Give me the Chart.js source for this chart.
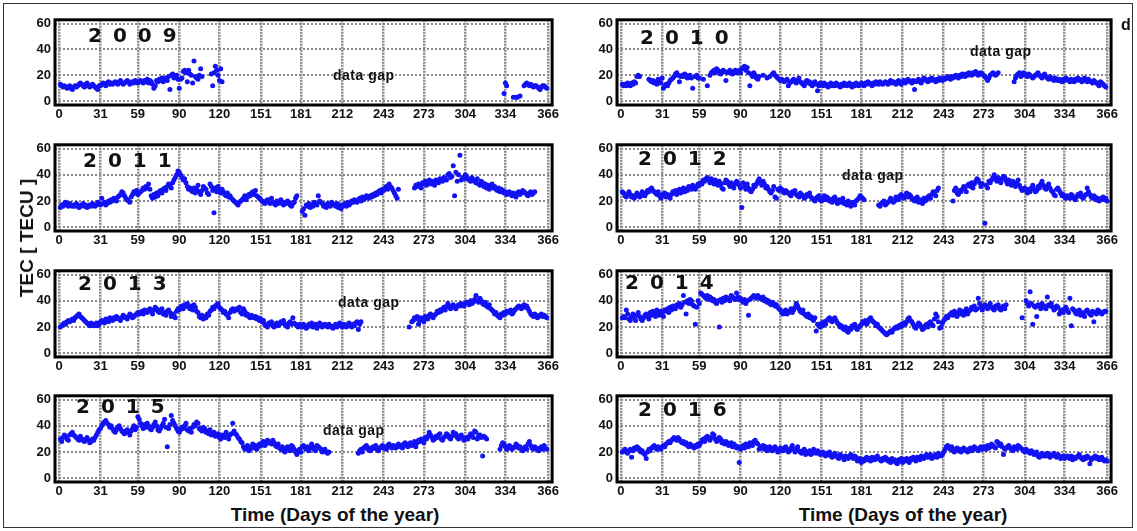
<!DOCTYPE html>
<html>
<head>
<meta charset="utf-8">
<script src="https://cdn.jsdelivr.net/npm/chart.js@4.4.1/dist/chart.umd.min.js"></script>
<style>
  body { margin: 0; background: #fff; width: 1137px; height: 531px; position: relative; overflow: hidden; font-family: "Liberation Sans", Arial, sans-serif; }
  #frame { position: absolute; left: 3px; top: 3px; width: 1128px; height: 523px; border: 1.5px solid #333; }
  canvas { position: absolute; }
  .lbl { position: absolute; white-space: nowrap; color: #111; font-weight: bold; }
  .year { font-family: "DejaVu Sans", sans-serif; font-size: 20px; letter-spacing: 2px; line-height: 20px; }
  .gap { font-size: 14px; line-height: 14px; letter-spacing: 0.5px; }
  .axis { font-size: 19px; line-height: 20px; }
</style>
</head>
<body>
<div id="frame"></div>

<script>
// tick labels
const dayTicks = [0, 31, 59, 90, 120, 151, 181, 212, 243, 273, 304, 334, 366];
const tecTicks = [0, 20, 40, 60];
const years = ['2009', '2010', '2011', '2012', '2013', '2014', '2015', '2016'];

// TEC values, as [first day, daily values...] runs
const tec2009 = [
  [1, [13,12,11,12,11,10,11,12,10,9,11,12,11,12,13,14,13,12,11,13,14,12,11,12,13,12,11,10,9,12,
       12,13,14,13,12,14,15,13,14,13,14,15,14,13,15,16,14,13,14,15,16,15,13,14,15,14,16,15,14,15,
       16,15,14,16,15,17,14,16,15,13,10,12,16,15,17,16,18,15,17,18,16,19,9,20,21,18,19,20,17,10,
       17,18,23,24,22,15,24,21,20,14,31,19,18,17,20,25,19]],
  [114, [21,12,22,27,24,20,16,25,15]],
  [333, [6,14,12,null,null,null,null,3,null,3,3,null,4,null,null,12,13,14,13,12,13,12,11,12,12,11,10,9,11,12,12,11,10]]
];
const tec2010 = [
  [1, [13,12,13,12,14,13,12,14,13,15,14,19,20,19]],
  [21, [17,16,15,16,14,15,13,17,15,14,
        18,10,12,13,12,14,16,17,18,19,21,22,20,15,19,20,19,21,20,18,
        19,20,18,10,null,19,20,18,18,null,null,17,null,null,12,null,20,22,
        23,24,22,25,24,23,21,22,24,23,16,22,23,24,22,21,23,24,22,23,24,22,
        25,26,27,24,26,22,12,21,19,22,20,18,17,19,null,null,20,null,null,18,
        null,19,null,21,22,20,19,18,17,16,
        17,16,15,16,17,12,14,15,16,17,15,14,16,18,15,14,13,12,15,16,14,15,13,12,14,15,13,8,12,14,
        13,12,14,13,12,11,13,14,12,13,12,14,13,12,11,13,12,14,13,12,13,14,12,11,13,12,14,13,12,13,14,
        13,12,14,13,15,14,13,12,14,13,15,14,13,15,14,13,14,15,14,13,15,16,14,15,14,13,15,16,14,13,15,
        16,14,15,17,16,15,14,16,9,15,16,17,15,14,16,18,17,16,15,17,16,18,17,16,15,17,16,18,17,16,18,
        17,18,19,18,17,19,18,19,20,19,18,20,19,21,20,19,21,20,22,21,20,22,21,23,22,20,21,22,21,20,
        19,18,16,18,20,21,22,21,20,21,22]],
  [296, [15,18,20,21,22,19,20,22,21,20,19,21,20,19,18,
         19,20,21,22,20,19,18,20,21,19,18,17,19,18,17,16,18,17,16,17,16,15,17,16,18,17,16,15,17,16,
         15,17,16,18,17,16,15,17,18,16,15,17,null,15,14,16,15,14,13,12,15,14,13,12,11]]
];
const tec2011 = [
  [1, [15,17,16,18,19,17,16,18,17,16,17,16,18,17,15,16,17,18,16,17,15,16,17,16,18,17,16,17,19,18,17,
       22,18,19,17,18,20,19,21,20,22,21,20,23,24,25,27,26,24,22,21,20,19,23,25,27,26,28,25,
       26,27,28,30,29,31,30,33,29,24,22,25,23,26,24,27,28,26,29,30,28,31,33,32,30,34,36,38,40,43,42,
       40,38,36,37,34,31,29,30,28,27,30,26,29,32,27,25,28,31,30,29,26,25,33,31,28,11,30,27,31,28,
       26,29,27,25,24,26,23,24,22,21,20,19,18,17,19,20,21,22,24,21,23,25,24,26,27,25,28,24,23,22,21,
       20,19,18,20,21,19,18,22,19,18,17,20,18,19,21,18,17,19,18,20,19,17,16,18,19,22,24]],
  [182, [12,14,9,17,16,18,15,17,16,19,18,17,24,20,19,18,16,17,15,18,17,16,19,18,17,16,18,15,17,14,16,
         17,18,16,19,17,18,20,19,21,20,19,21,22,20,23,21,22,24,23,22,24,23,25,24,26,25,27,28,26,29,
         28,30,31,29,33,31,30,28,26,24,22,29]],
  [266, [30,32,31,33,32,30,34,33,35,32,34,36,33,35,34,32,36,35,34,37,36,35,38,37,36,40,41,38,39,47,24,42,35,40,55,36,38,37,40,
         39,37,36,35,38,36,35,34,37,33,32,35,34,31,33,30,32,29,31,33,30,31,29,28,30,27,29,28,26,27,25,
         26,27,25,24,26,25,23,26,27,25,26,28,27,26,25,24,26,27,25,26,27]]
];
const tec2012 = [
  [1, [27,26,24,23,25,27,25,23,24,22,24,26,25,23,24,27,25,24,26,28,27,29,30,28,27,26,25,27,24,22,25,
       24,26,23,25,24,22,25,27,26,28,25,27,29,26,28,30,27,29,28,31,30,29,32,30,29,31,33,32,
       34,33,36,35,37,38,36,34,37,35,33,36,34,32,35,33,30,29,34,36,35,33,31,34,32,30,33,35,34,32,30,
       15,34,31,29,33,30,28,27,29,32,31,33,35,37,34,32,35,33,30,31,29,27,26,28,31,23,22,29,28,30,
       29,27,26,28,27,26,25,24,27,26,28,25,24,23,26,25,24,22,23,25,24,26,23,22,21,20,22,23,24,21,20,
       22,24,21,23,22,20,21,19,22,23,20,18,21,19,20,22,18,19,17,20,18,16,19,18,17,20,21,22,24,23,22,21]],
  [194, [17,16,18,19,20,17,18,19,20,22,21,19,20,23,22,21,24,25,23,22,24,26,23,25,24,22,21,20,22,23,
         19,21,20,18,22,20,21,23,24,22,25,27,26,24,28,30]],
  [250, [20,28,30,26,25,28,27,29,31,30,27,32,33,31,34,30,33,35,37,36,34,31,33,null,
         3,32,30,35,34,36,38,40,37,35,38,36,34,37,39,38,35,33,36,34,32,35,33,31,34,36,32,30,28,29,30,
         28,26,29,27,30,32,29,27,28,31,30,33,35,32,30,29,31,33,30,28,27,25,24,29,30,28,26,24,25,23,22,
         24,23,22,25,24,22,21,23,25,24,26,23,22,24,25,30,27,25,23,22,24,23,21,22,20,21,22,23,21,22,20]]
];
const tec2013 = [
  [1, [20,21,22,23,22,24,25,24,25,26,25,27,28,29,30,28,27,26,25,24,23,22,21,23,22,21,22,23,21,22,24,
       25,24,23,26,25,24,27,26,25,27,26,28,27,26,25,27,29,28,27,26,28,30,29,27,28,29,30,31,30,
       31,32,30,33,32,31,33,34,32,30,33,35,34,32,31,33,34,30,31,29,32,33,31,28,30,29,27,32,34,33,
       35,36,34,37,36,38,35,34,36,33,37,35,32,31,28,27,29,26,28,27,30,29,32,33,35,34,36,37,38,35,
       34,33,31,32,30,29,27,31,33,34,32,33,34,33,35,31,30,34,32,29,30,28,27,29,28,27,28,26,27,25,26,
       24,25,22,21,20,23,22,24,21,20,22,23,21,22,24,23,25,22,21,20,23,24,22,27,23,22,21,20,22,21,
       20,22,21,19,20,22,21,23,20,21,22,19,21,23,22,20,21,22,21,20,22,21,20,19,21,22,20,21,23,21,
       20,22,21,20,22,23,21,20,22,21,23,24,18,22,24]],
  [262, [20,null,24,25,27,26,28,22,25,27,26,24,28,27,26,29,30,28,27,29,30,32,31,33,32,34,35,33,36,38,
         35,34,36,37,35,34,36,37,36,38,37,36,38,
         39,38,37,40,38,39,41,44,40,39,42,40,38,37,39,36,35,37,34,33,32,30,31,29,28,27,30,29,31,30,32,
         31,32,33,30,31,33,34,35,36,35,34,36,37,35,36,34,32,30,29,28,30,29,27,28,29,30,28,29,28,27]]
];
const tec2014 = [
  [1, [27,28,27,33,30,26,25,28,30,27,25,29,31,28,26,25,27,29,30,28,26,31,29,32,30,28,33,31,29,32,30,
       28,33,32,34,31,35,33,36,35,34,37,36,38,35,37,44,39,30,40,38,41,40,37,36,22,35,40,38,
       46,45,44,43,42,44,41,43,42,40,41,39,38,40,20,41,39,42,40,43,41,42,40,44,43,42,41,46,43,41,42,
       40,39,41,38,40,29,41,42,43,44,43,42,44,43,42,41,43,40,41,39,40,38,37,39,38,36,37,35,34,33,
       31,30,32,33,30,31,32,34,31,33,35,38,36,34,32,31,33,30,29,28,30,27,28,26,25,27,17,22,21,20,23,
       21,24,22,25,26,27,25,24,26,27,25,23,22,20,21,19,18,20,17,16,19,18,21,20,22,19,18,20,21,22,
       24,23,25,22,24,26,27,25,24,23,21,22,20,19,18,17,16,15,14,15,16,17,16,18,19,20,19,21,20,22,21,
       23,22,24,26,27,25,24,22,20,19,21,23,22,20,18,19,21,22,20,23,24,22,21,26,30,28,24,19,20,23,25,
       26,28,27,29,30,31,29,32,30,28,31,33,30,32,29,31,34,30,32,33,35,34,36,33,34,42,38,35,33,36,
       37,35,34,36,38,35,34,33,36,35,37,34,33,35,36,34,37]],
  [302, [27,null,null,40,38,36,47,38,22,36,35,28,37,36,34,38,35,36,34,43,37,36,38,35,33,34,36,35,30,32,33,31,34,
         35,33,31,42,21,34,33,31,30,32,33,29,31,30,28,32,33,31,30,29,32,24,31,30,33,32,31,30,31,32,32]]
];
const tec2015 = [
  [1, [30,28,31,33,32,30,29,33,34,35,33,32,31,30,29,32,30,29,28,30,31,29,27,28,30,29,31,33,35,37,38,
       40,42,43,44,42,41,39,40,38,36,35,37,39,40,38,36,35,34,36,37,35,33,36,38,40,37,39,47,
       45,42,40,38,41,39,42,40,38,37,39,41,43,40,37,36,38,40,42,45,39,24,38,41,48,44,42,40,38,36,35,
       37,39,38,40,42,37,36,38,35,39,41,40,43,42,38,37,36,39,38,35,36,34,37,33,34,35,32,33,34,31,
       30,33,32,31,35,32,30,33,34,42,36,34,33,31,30,28,27,24,22,23,25,21,22,24,26,23,25,22,24,26,25,
       27,28,25,26,29,28,27,26,29,27,25,24,26,23,22,24,21,20,23,24,22,21,25,24,22,20,18,21,22,20,
       24,25,23,22,24,21,23,26,24,22,21,25,24,23,22,20,21,22,20,19,20]],
  [224, [19,21,22,20,23,24,25,22,23,21,22,24,23,25,22,21,23,24,25,23,24,22,25,26,24,23,25,24,23,25,
         26,24,25,23,26,27,25,24,26,27,25,26,28,24,27,29,28,30,29,27,31,30,32,35,33,31,29,30,32,31,
         33,34,30,29,31,32,34,33,31,30,32,35,33,34,31,30,32,33,31,29,30,
         31,30,32,34,33,31,36,35,30,32,33,31,17,32,31,30]],
  [330, [22,25,27,26,24,22,23,25,24,22,23,24,26,25,23,24,22,21,23,24,22,26,28,25,23,22,24,23,22,21,23,24,22,25,23,22]]
];
const tec2016 = [
  [1, [20,21,22,20,19,21,22,16,21,23,22,24,23,22,20,21,19,18,15,20,22,21,23,24,25,23,22,24,23,22,24,
       25,24,26,27,28,27,29,30,31,30,29,31,30,28,27,28,26,27,25,24,26,25,24,23,25,24,26,25,
       27,29,30,28,31,32,30,29,31,34,33,30,28,29,31,30,27,28,26,28,27,25,26,27,24,26,25,23,24,12,22,
       24,25,23,26,25,24,27,26,25,28,29,27,26,22,24,23,25,22,24,21,23,24,22,21,23,24,22,20,21,23,
       22,21,23,24,22,20,21,23,25,22,20,22,24,21,20,19,21,22,18,20,19,21,18,19,22,20,19,21,20,18,19,
       20,18,17,19,18,20,17,16,18,19,17,16,15,18,17,16,14,17,16,15,17,18,16,15,17,16,13,14,15,12,
       14,13,15,16,14,15,13,16,15,14,16,17,15,14,13,15,14,16,15,13,14,12,15,13,14,12,11,14,13,15,12,
       14,13,15,14,12,15,14,16,15,13,16,15,14,17,16,15,17,18,16,17,18,15,16,17,18,16,19,null,17,18,20,
       22,24,25,23,22,24,21,20,22,23,21,22,20,21,23,22,21,20,22,23,21,22,24,23,22,21,23,24,22,23,
       24,22,25,23,24,26,25,24,23,28,27,25,26,24,18,22,23,24,25,23,22,21,24,23,22,25,24,23,22,21,20,
       22,21,20,19,21,20,18,19,20,17,16,18,19,17,18,17,19,18,16,17,18,19,17,16,18,17,15,16,17,15,16,
       17,16,15,17,14,16,15,16,17,18,16,15,14,16,15,17,16,11,14,15,16,17,15,16,14,15,16,14,13,14,13]]
];

const allTec = [tec2009, tec2010, tec2011, tec2012, tec2013, tec2014, tec2015, tec2016];

function toPoints(runs) {
  const pts = [];
  runs.forEach(([start, vals]) => {
    vals.forEach((v, i) => { if (v !== null) pts.push({ x: start + i, y: v }); });
  });
  return pts;
}

// plot areas (left, top, right, bottom)
const cols = [[55, 555], [617, 1114]];
const rows = [[14, 105], [139, 231], [265, 357], [390, 482]];
const yAxisW = 36, xAxisH = 22, padT = 6, padR = 6;

const tickFont = { family: '"Liberation Sans", Arial, sans-serif', size: 13, weight: 'bold' };

const framePlugin = {
  id: 'frame',
  afterDraw(chart) {
    const a = chart.chartArea, ctx = chart.ctx;
    ctx.save();
    ctx.strokeStyle = '#000';
    ctx.lineWidth = 3;
    ctx.strokeRect(a.left, a.top, a.right - a.left, a.bottom - a.top);
    ctx.restore();
  }
};

function addLabel(text, cls, left, top, extra) {
  const d = document.createElement('div');
  d.className = 'lbl ' + cls;
  d.textContent = text;
  d.style.left = left + 'px';
  d.style.top = top + 'px';
  if (extra) Object.assign(d.style, extra);
  document.body.appendChild(d);
  return d;
}

allTec.forEach((runs, k) => {
  const [L, R] = cols[k % 2];
  const [T, B] = rows[Math.floor(k / 2)];
  const cv = document.createElement('canvas');
  cv.width = (R - L) + yAxisW + padR;
  cv.height = (B - T) + padT + xAxisH;
  cv.style.left = (L - yAxisW) + 'px';
  cv.style.top = (T - padT) + 'px';
  document.body.appendChild(cv);

  new Chart(cv.getContext('2d'), {
    type: 'scatter',
    data: {
      datasets: [{
        data: toPoints(runs),
        backgroundColor: '#1212f2',
        pointRadius: 2.5,
        pointBorderWidth: 0
      }]
    },
    options: {
      responsive: false,
      animation: false,
      devicePixelRatio: 1,
      layout: { padding: { left: 0, top: padT, right: padR, bottom: 0 } },
      plugins: { legend: { display: false }, tooltip: { enabled: false } },
      scales: {
        x: {
          type: 'linear', min: -3, max: 369,
          afterBuildTicks: s => { s.ticks = dayTicks.map(v => ({ value: v })); },
          afterFit: s => { s.height = xAxisH; },
          ticks: { autoSkip: false, maxRotation: 0, padding: 2, font: tickFont, color: '#111' },
          grid: { color: '#8a8a8a', lineWidth: 2.5, drawTicks: false },
          border: { display: false, dash: [2, 1] }
        },
        y: {
          min: -3, max: 63,
          afterBuildTicks: s => { s.ticks = tecTicks.map(v => ({ value: v })); },
          afterFit: s => { s.width = yAxisW; },
          ticks: { padding: 4, font: tickFont, color: '#111' },
          grid: { color: '#8a8a8a', lineWidth: 2, drawTicks: false },
          border: { display: false, dash: [2, 2] }
        }
      }
    },
    plugins: [framePlugin]
  });
});

// year labels
const yearPos = [[88, 25], [640, 27], [83, 150], [638, 148], [78, 273], [625, 272], [76, 396], [638, 399]];
years.forEach((y, k) => addLabel(y.split('').join(' '), 'year', yearPos[k][0], yearPos[k][1]));

// data gap notes
[[333, 68], [970, 44], [842, 168], [338, 295], [323, 423]].forEach(p => addLabel('data gap', 'gap', p[0], p[1]));

addLabel('d', 'gap', 1121, 18, { fontSize: '16px' });
addLabel('Time (Days of the year)', 'axis', 335, 505, { transform: 'translateX(-50%)' });
addLabel('Time (Days of the year)', 'axis', 903, 505, { transform: 'translateX(-50%)' });
addLabel('TEC [ TECU ]', 'axis', 27, 238, { transform: 'translate(-50%, -50%) rotate(-90deg)', fontSize: '19px' });
</script>
</body>
</html>
